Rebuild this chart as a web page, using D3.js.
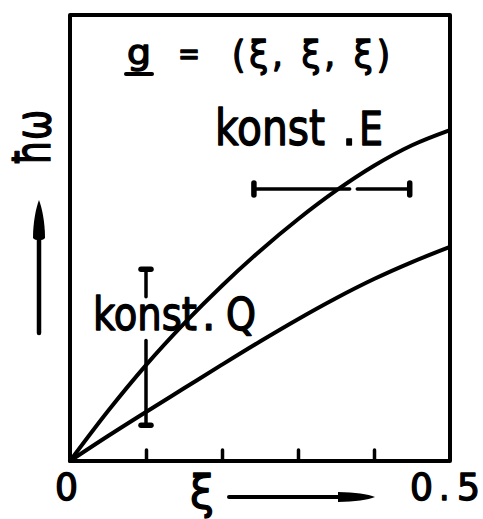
<!DOCTYPE html>
<html>
<head>
<meta charset="utf-8">
<script src="https://cdn.jsdelivr.net/npm/d3@7"></script>
<style>
  html, body { margin: 0; padding: 0; background: #fff; }
  svg { display: block; }
  text { font-family: "DejaVu Sans Condensed", "Liberation Sans Narrow", "DejaVu Sans", sans-serif; fill: #000; stroke: #000; stroke-width: 1.3px; stroke-linejoin: round; }
</style>
</head>
<body>
<svg id="chart" width="483" height="519"></svg>
<script>
// Reduced wave vector ξ along (ξ, ξ, ξ)
const xi = [0, 0.05, 0.1, 0.15, 0.2, 0.25, 0.3, 0.35, 0.4, 0.45, 0.5];
// Phonon energies ħω (arbitrary units) for the two branches
const upperBranch = [0, 0.112, 0.215, 0.308, 0.393, 0.471, 0.542, 0.606, 0.662, 0.708, 0.742];
const lowerBranch = [0, 0.056, 0.110, 0.163, 0.216, 0.268, 0.318, 0.365, 0.408, 0.446, 0.480];
// Resolution bars: constant-Q scan (vertical) and constant-E scan (horizontal)
const constQ = { xi: 0.1, lo: 0.08, hi: 0.43, gapLo: 0.27, gapHi: 0.368 };
const constE = { omega: 0.61, lo: 0.242, hi: 0.447, gapLo: 0.368, gapHi: 0.378 };
const xTicks = [0.1, 0.2, 0.3, 0.4];
const xEndLabels = [0, 0.5];

const svg = d3.select("#chart");
const x = d3.scaleLinear().domain([0, 0.5]).range([70, 450]);
const y = d3.scaleLinear().domain([0, 1]).range([461, 15]);

// Frame
svg.append("rect")
  .attr("x", x(0)).attr("y", y(1))
  .attr("width", x(0.5) - x(0)).attr("height", y(0) - y(1))
  .attr("fill", "none").attr("stroke", "#000").attr("stroke-width", 4)
  .attr("stroke-linejoin", "round");

// Inner ticks along the ξ axis
const xAxis = d3.axisTop(x).tickValues(xTicks).tickSize(11).tickFormat("");
const gx = svg.append("g").attr("transform", `translate(0,${y(0)})`).call(xAxis);
gx.select(".domain").remove();
gx.selectAll(".tick line").attr("stroke", "#000").attr("stroke-width", 3.5).attr("stroke-linecap", "round");

// Dispersion branches
const line = d3.line().x((d, i) => x(xi[i])).y(d => y(d)).curve(d3.curveMonotoneX);
[upperBranch, lowerBranch].forEach(b => {
  svg.append("path").attr("d", line(b))
    .attr("fill", "none").attr("stroke", "#000").attr("stroke-width", 4)
    .attr("stroke-linecap", "round").attr("stroke-linejoin", "round");
});

const seg = (x1, y1, x2, y2, w) => svg.append("line")
  .attr("x1", x1).attr("y1", y1).attr("x2", x2).attr("y2", y2)
  .attr("stroke", "#000").attr("stroke-width", w).attr("stroke-linecap", "round");

// constant-Q bar
const qx = x(constQ.xi);
seg(qx, y(constQ.hi), qx, y(constQ.gapHi), 3.5);
seg(qx, y(constQ.gapLo), qx, y(constQ.lo), 3.5);
seg(qx - 5, y(constQ.hi), qx + 5, y(constQ.hi), 5.5);
seg(qx - 5, y(constQ.lo), qx + 5, y(constQ.lo), 5.5);

// constant-E bar
const ey = y(constE.omega);
seg(x(constE.lo), ey, x(constE.gapLo), ey, 3.5);
seg(x(constE.gapHi), ey, x(constE.hi), ey, 3.5);
seg(x(constE.lo), ey - 6, x(constE.lo), ey + 6, 5.5);
seg(x(constE.hi), ey - 6, x(constE.hi), ey + 6, 5.5);

// Lettering: a string set at a font size and squeezed horizontally to a given width
function letter(str, x0, base, size, width) {
  const g = svg.append("g");
  const t = g.append("text").attr("font-size", size).text(str);
  const w = t.node().getComputedTextLength();
  const sx = width ? width / w : 1;
  g.attr("transform", `translate(${x0},${base}) scale(${sx},1)`);
  return g;
}

// Title  g = (ξ, ξ, ξ)
letter("g", 127, 64, 34, 24);
seg(126, 74, 152, 74, 4);
letter("=", 178, 65, 32, 22);
svg.append("text").attr("x", 232).attr("y", 67).attr("font-size", 38)
  .attr("textLength", 158).attr("lengthAdjust", "spacing").text("(ξ, ξ, ξ)");

// Scan labels
letter("konst", 215, 145, 50, 110);
letter(".", 342, 145, 50);
letter("E", 359, 145, 46, 24);

letter("konst", 93, 330, 47, 104);
letter(".", 202, 330, 47);
letter("Q", 226, 330, 44, 30);

// ξ axis end labels
const endText = xEndLabels.map(String);
letter(endText[0], 55, 500, 37, 23);
const [intPart, fracPart] = endText[1].split(".");
letter(intPart, 410, 500, 37, 23);
letter(".", 439, 500, 37);
letter(fracPart, 457, 500, 37, 23);

// ξ axis title with arrow
letter("ξ", 190, 508, 46, 24);
seg(229, 497, 345, 497, 4);
svg.append("path").attr("d", "M338,492 C355,492.5 368,494 375,497 C368,500 355,501.5 338,502 Z").attr("fill", "#000");

// ħω axis title with arrow
svg.append("text").attr("transform", "translate(50,165) rotate(-90)").attr("font-size", 50)
  .attr("textLength", 55).attr("lengthAdjust", "spacingAndGlyphs").text("ħω");
seg(39, 333, 39, 232, 4.5);
svg.append("path").attr("d", "M33,238 C33,222 36,208 39,200 C42,208 45,222 45,238 C43,241 35,241 33,238 Z").attr("fill", "#000");
</script>
</body>
</html>
